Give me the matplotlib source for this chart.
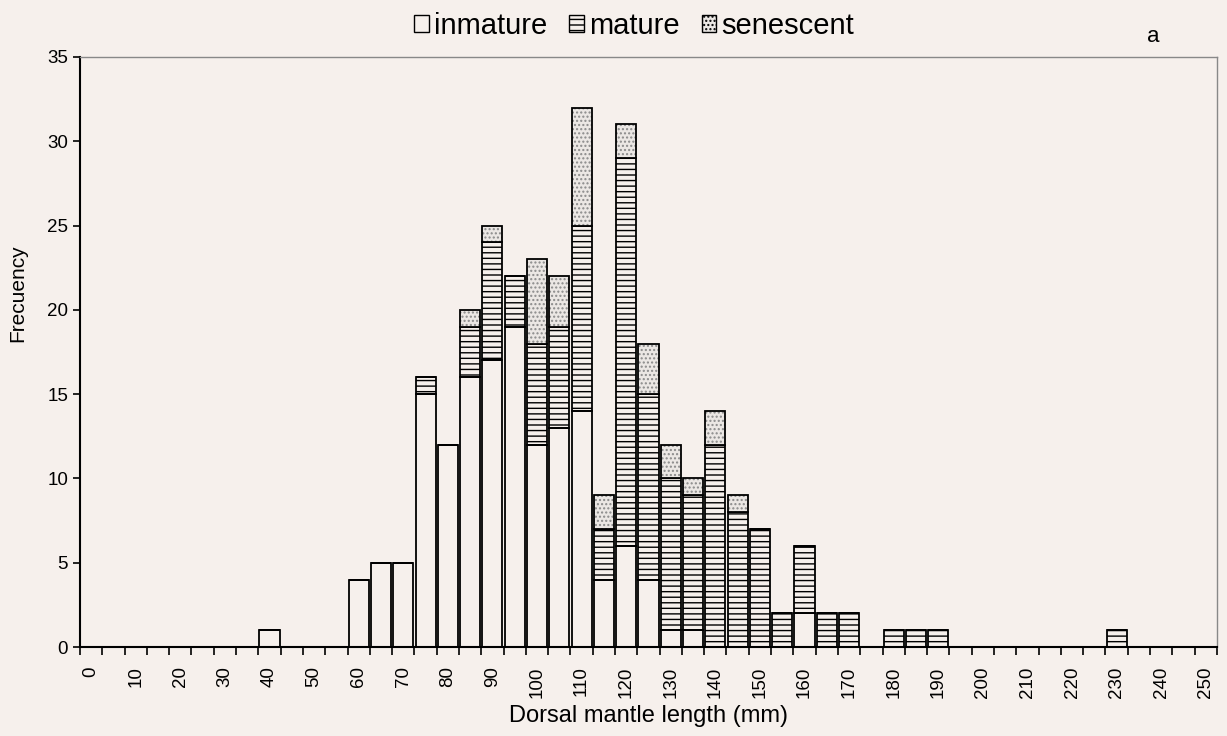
import numpy as np
import matplotlib
matplotlib.use("Agg")
from matplotlib import pyplot as plt
from matplotlib.patches import Patch

plt.rcParams['font.family'] = ['Liberation Sans', 'DejaVu Sans']
plt.rcParams['hatch.linewidth'] = 1.0

# size classes (mm), 5 mm steps
lengths = list(range(0, 255, 5))

# counts per class
inmature_counts = {40: 1, 60: 4, 65: 5, 70: 5, 75: 15, 80: 12, 85: 16, 90: 17,
                   95: 19, 100: 12, 105: 13, 110: 14, 115: 4, 120: 6, 125: 4,
                   130: 1, 135: 1, 160: 2}
mature_counts = {75: 1, 85: 3, 90: 7, 95: 3, 100: 6, 105: 6, 110: 11, 115: 3,
                 120: 23, 125: 11, 130: 9, 135: 8, 140: 12, 145: 8, 150: 7,
                 155: 2, 160: 4, 165: 2, 170: 2, 180: 1, 185: 1, 190: 1, 230: 1}
senescent_counts = {85: 1, 90: 1, 100: 5, 105: 3, 110: 7, 115: 2, 120: 2,
                    125: 3, 130: 2, 135: 1, 140: 2, 145: 1}

inmature = np.array([inmature_counts.get(L, 0) for L in lengths])
mature = np.array([mature_counts.get(L, 0) for L in lengths])
senescent = np.array([senescent_counts.get(L, 0) for L in lengths])

bg = '#f6f0ec'
dot_fill = '#ebe7e4'
fig = plt.figure(figsize=(12.27, 7.36), dpi=100, facecolor=bg)
ax = fig.add_axes([0.0652, 0.1209, 0.9266, 0.8017], facecolor=bg)

x = np.arange(len(lengths))
w = 0.9
lw = 1.3
ax.bar(x, inmature, w, color='none', edgecolor='black', linewidth=lw)
ax.bar(x, mature, w, bottom=inmature, color='none', edgecolor='black',
       linewidth=lw, hatch='---')
# dotted fill in grey, then the black outline on top
ax.bar(x, senescent, w, bottom=inmature + mature, color=dot_fill,
       edgecolor='#8a8a8a', linewidth=0, hatch='....')
ax.bar(x, senescent, w, bottom=inmature + mature, color='none',
       edgecolor='black', linewidth=lw)

ax.set_xlim(-0.5, len(lengths) - 0.5)
ax.set_ylim(0, 35)
ax.set_yticks(range(0, 36, 5))

# ticks at class boundaries, labels every 10 mm
ax.set_xticks(np.arange(len(lengths) + 1) - 0.5)
ax.set_xticklabels([])
ax.set_xticks(x[::2], minor=True)
ax.set_xticklabels([str(L) for L in lengths[::2]], minor=True, rotation=90,
                   fontsize=13.5)
ax.tick_params(axis='x', which='minor', length=0, pad=14)
ax.tick_params(axis='x', which='major', length=6, width=1.2, direction='out')
ax.tick_params(axis='y', labelsize=13.5, length=5, width=1.2, direction='out')

for s in ['left', 'bottom']:
    ax.spines[s].set_linewidth(1.5)
for s in ['top', 'right']:
    ax.spines[s].set_color('#888888')
    ax.spines[s].set_linewidth(1.0)

ax.set_xlabel('Dorsal mantle length (mm)', fontsize=17, labelpad=5)
ax.set_ylabel('Frecuency', fontsize=15)
ax.yaxis.set_label_coords(-0.046, 0.6)

handles = [Patch(facecolor='none', edgecolor='black', label='inmature'),
           Patch(facecolor='none', edgecolor='black', hatch='---', label='mature'),
           Patch(facecolor=dot_fill, edgecolor='black', hatch='....',
                 label='senescent')]
fig.legend(handles=handles, loc='center', bbox_to_anchor=(0.517, 0.965), ncol=3,
           frameon=False, fontsize=21, handlelength=0.5, handleheight=0.5,
           handletextpad=0.18, columnspacing=0.75)

fig.text(0.94, 0.951, 'a', fontsize=16, ha='center', va='center')

fig.savefig('out.png', dpi=100, facecolor=bg)
